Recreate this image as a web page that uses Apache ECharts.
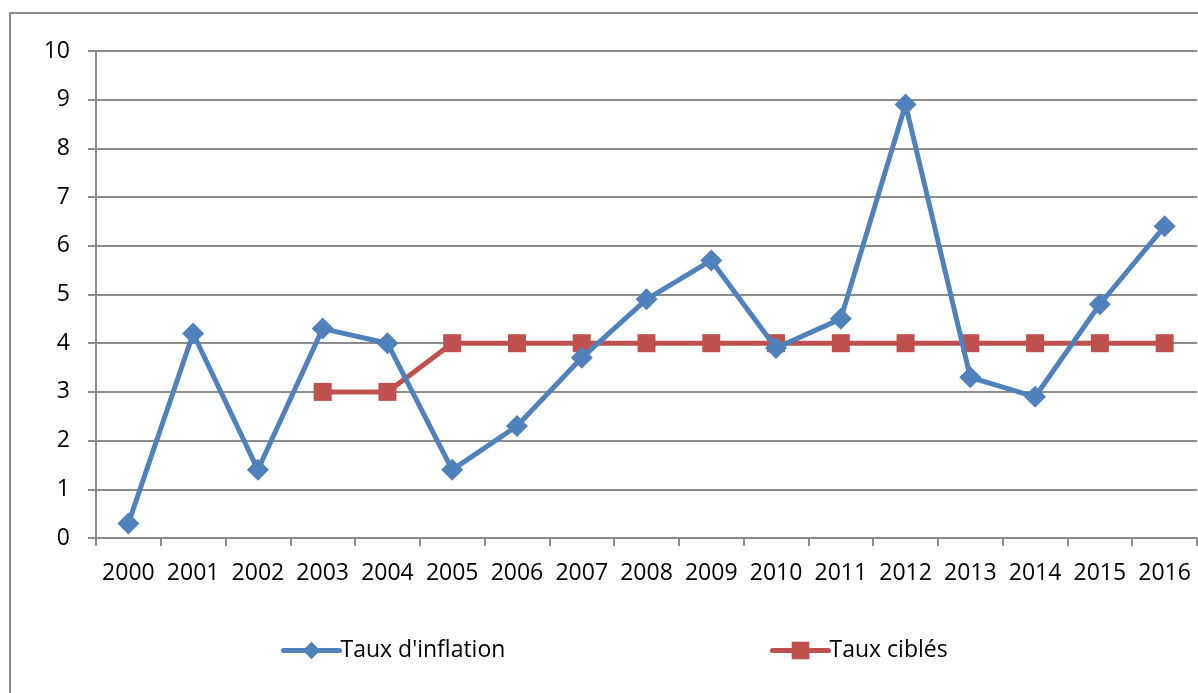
<!DOCTYPE html>
<html>
<head>
<meta charset="utf-8">
<script src="https://cdn.jsdelivr.net/npm/echarts@6/dist/echarts.min.js"></script>
<style>
  html, body { margin: 0; padding: 0; background: #fff; }
  #chart { width: 1198px; height: 693px; }
</style>
</head>
<body>
<div id="chart"></div>
<script>
// années
const years = ['2000', '2001', '2002', '2003', '2004', '2005', '2006', '2007', '2008',
  '2009', '2010', '2011', '2012', '2013', '2014', '2015', '2016'];
// taux d'inflation
const inflation = [0.3, 4.2, 1.4, 4.3, 4.0, 1.4, 2.3, 3.7, 4.9, 5.7, 3.9, 4.5, 8.9, 3.3, 2.9, 4.8, 6.4];
// taux ciblés (pas de cible avant 2003)
const cible = [null, null, null, 3, 3, 4, 4, 4, 4, 4, 4, 4, 4, 4, 4, 4, 4];

const font = '"Open Sans", "Noto Sans", sans-serif';
const gris = '#8c8c8c';

const legende = (left, nom) => ({
  left: left, top: 634, itemWidth: 56, itemHeight: 22, itemGap: 0,
  lineStyle: { width: 5, cap: 'round' },
  textStyle: { fontSize: 23, color: '#000', fontFamily: font, padding: [0, 0, 0, -4] },
  data: [nom]
});

const chart = echarts.init(document.getElementById('chart'));
chart.setOption({
  animation: false,
  textStyle: { fontFamily: font },
  graphic: [{
    type: 'rect',
    shape: { x: 10, y: 13, width: 1200, height: 700 },
    style: { fill: 'none', stroke: gris, lineWidth: 2 }
  }],
  grid: { left: 96, right: 1, top: 51, bottom: 155 },
  legend: [legende(276, "Taux d'inflation"), legende(765, 'Taux ciblés')],
  xAxis: {
    type: 'category',
    data: years,
    boundaryGap: true,
    axisLine: { lineStyle: { color: gris, width: 2 } },
    axisTick: { show: true, length: 8, lineStyle: { color: gris, width: 2 } },
    axisLabel: { color: '#000', fontSize: 23, margin: 24, interval: 0 }
  },
  yAxis: {
    type: 'value',
    min: 0, max: 10, interval: 1,
    axisLine: { show: true, lineStyle: { color: gris, width: 2 } },
    axisTick: { show: true, length: 8, lineStyle: { color: gris, width: 2 } },
    axisLabel: { color: '#000', fontSize: 23, margin: 26 },
    splitLine: { lineStyle: { color: gris, width: 2 } }
  },
  series: [
    {
      name: "Taux d'inflation",
      type: 'line',
      data: inflation,
      symbol: 'diamond',
      symbolSize: [22, 22],
      itemStyle: { color: '#4f81bd' },
      lineStyle: { color: '#4f81bd', width: 5 },
      z: 3
    },
    {
      name: 'Taux ciblés',
      type: 'line',
      data: cible,
      symbol: 'rect',
      symbolSize: 18,
      itemStyle: { color: '#c0504d' },
      lineStyle: { color: '#c0504d', width: 5 },
      z: 2
    }
  ]
});
</script>
</body>
</html>
